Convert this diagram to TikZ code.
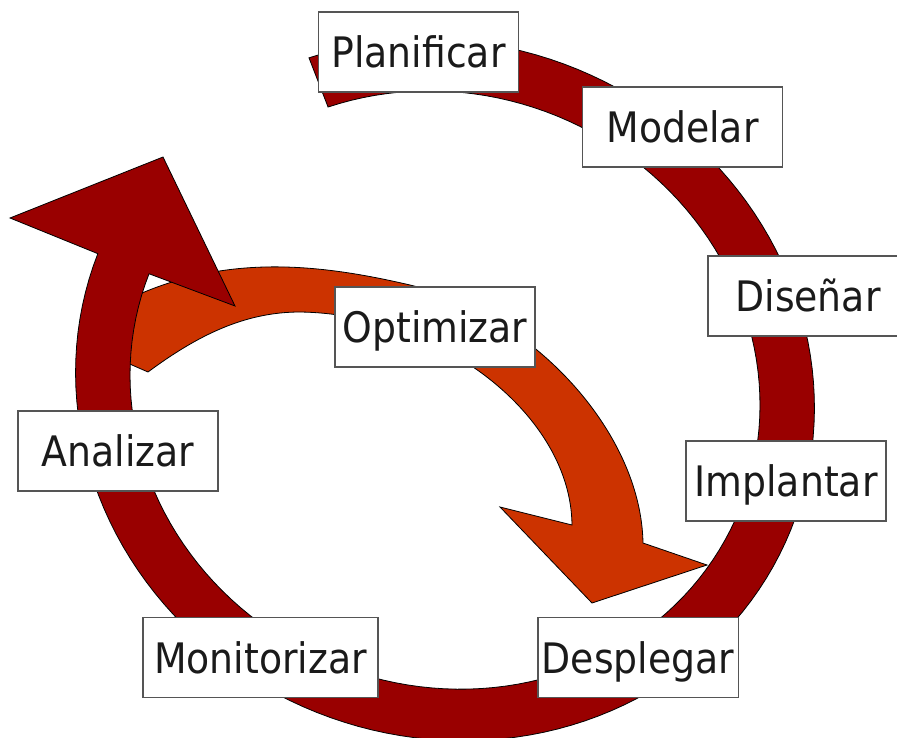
\documentclass[tikz,border=0pt]{standalone}
\usepackage{fontspec}
\setmainfont{DejaVu Sans}[FakeStretch=0.9]
\definecolor{ringred}{HTML}{990000}
\definecolor{looporange}{HTML}{CC3300}
\definecolor{boxline}{HTML}{555555}
\definecolor{ink}{HTML}{1A1A1A}

\begin{document}
\begin{tikzpicture}[x=1pt,y=-1pt,
  stage/.style={draw=boxline, line width=1.5pt, fill=white, text=ink,
    minimum width=200pt, minimum height=80pt, inner xsep=4pt, inner ysep=0pt,
    text height=31pt, text depth=0pt, font=\fontsize{42}{48}\selectfont},
  band/.style={draw=black, line width=0.8pt, line join=miter}]
\useasboundingbox (0,0) rectangle (897,737);
\clip (0,0) rectangle (897,737);

% inner orange loop arrow (Optimizar)
\filldraw[band, fill=looporange]
  (148,372) .. controls (198,335) and (245,312) .. (300,312)
            .. controls (440,314) and (571,415) .. (572,525)
  -- (500,507) -- (592,603) -- (707,565) -- (643,543)
            .. controls (641,430) and (530,313) .. (410,285)
            .. controls (320,264) and (232,255) .. (142,293)
  -- (120,300) -- (100,351) -- cycle;

% outer life-cycle ring: tilted elliptical band, tail at the top,
% arrow head on the upper left
\filldraw[band, fill=ringred]
  plot[domain=227.8:539.4, samples=140, variable=\t]
    ({445 + 373*cos(\t)*0.92718 - 347*sin(\t)*0.37461},
     {390 + 373*cos(\t)*0.37461 + 347*sin(\t)*0.92718})
  -- (10,218) -- (163,157) -- (235,306)
  -- plot[domain=-539.4:-227.6, samples=140, variable=\t]
    ({445 + 318*cos(\t)*0.92718 + 296*sin(\t)*0.37461},
     {390 + 318*cos(\t)*0.37461 - 296*sin(\t)*0.92718})
  -- cycle;

% stage labels
\node[stage] (plan)  at (418.5,52)   {Planificar};
\node[stage] (model) at (682.5,127)  {Modelar};
\node[stage] (dis)   at (808,296)    {Diseñar};
\node[stage] (impl)  at (786,481)    {Implantar};
\node[stage] (despl) at (638,657.5)  {Desplegar};
\node[stage, minimum width=235pt] (mon) at (260.5,657.5) {Monitorizar};
\node[stage] (anal)  at (118,451)    {Analizar};
\node[stage] (opt)   at (435,327)    {Optimizar};
\end{tikzpicture}
\end{document}
